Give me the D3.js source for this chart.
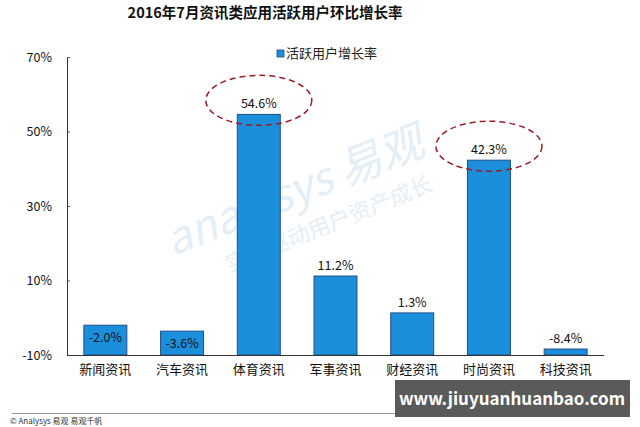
<!DOCTYPE html>
<html><head><meta charset="utf-8">
<script src="https://cdn.jsdelivr.net/npm/d3@7"></script>
<style>
body{margin:0;background:#fff;}
text{font-family:"Noto Sans CJK SC","DejaVu Sans",sans-serif;}
</style></head>
<body><svg id="c" width="640" height="427"></svg>
<script>
const categories = ["新闻资讯","汽车资讯","体育资讯","军事资讯","财经资讯","时尚资讯","科技资讯"];
const values = [-2.0,-3.6,54.6,11.2,1.3,42.3,-8.4];
const yTicks = [-10,10,30,50,70];
const highlighted = ["体育资讯","时尚资讯"];
const title = "2016年7月资讯类应用活跃用户环比增长率";
const seriesName = "活跃用户增长率";

const svg = d3.select("#c");
const x = d3.scaleBand().domain(categories).range([67,604]).paddingInner(0.44).paddingOuter(0.22);
const y = d3.scaleLinear().domain([-10,70]).range([355,57]);
const blue = "#1b8fdb", edge = "#1d4f86";

// faint watermark
const wm = svg.append("g").attr("transform","translate(300,205) rotate(-22)").attr("fill","#e4eef6");
wm.append("text").attr("x",0).attr("y",0).attr("text-anchor","middle").attr("font-size",44).attr("font-style","italic").text("analysys 易观");
wm.append("text").attr("x",20).attr("y",36).attr("text-anchor","middle").attr("font-size",22).text("实践驱动用户资产成长");

svg.append("text").attr("x",265).attr("y",18).attr("text-anchor","middle")
  .attr("font-size",14.5).attr("font-weight","bold").attr("fill","#111").text(title);

// legend
svg.append("rect").attr("x",277).attr("y",50).attr("width",7).attr("height",7).attr("fill",blue).attr("stroke",edge).attr("stroke-width",0.8);
svg.append("text").attr("x",286).attr("y",58).attr("font-size",13).attr("fill","#222").text(seriesName);

// y axis
const ya = svg.append("g").attr("transform","translate(67,0)")
  .call(d3.axisLeft(y).tickValues(yTicks).tickSize(-3).tickPadding(15).tickFormat(d=>d+"%"));
ya.select(".domain").attr("stroke","#333");
ya.selectAll(".tick line").attr("stroke","#555");
ya.selectAll("text").attr("fill","#111").attr("font-family","DejaVu Sans, sans-serif").attr("font-size",12.5);

// bars
svg.selectAll("rect.bar").data(categories).enter().append("rect").attr("class","bar")
  .attr("x",d=>x(d)).attr("width",x.bandwidth())
  .attr("y",(d,i)=>y(values[i])).attr("height",(d,i)=>y(-10)-y(values[i]))
  .attr("fill",blue).attr("stroke",edge).attr("stroke-width",1);

// x axis
const xa = svg.append("g").attr("transform","translate(0,355)")
  .call(d3.axisBottom(x).tickSize(0).tickPadding(10));
xa.select(".domain").attr("stroke","#333").attr("d","M67,0.5H604");
xa.selectAll("text").attr("font-size",13).attr("fill","#111");

// value labels
svg.selectAll("text.val").data(categories).enter().append("text").attr("class","val")
  .attr("x",d=>x(d)+x.bandwidth()/2)
  .attr("y",(d,i)=> (values[i]<0 && values[i]>-6) ? y(values[i])+17 : y(values[i])-6)
  .attr("text-anchor","middle").attr("font-size",12.5).attr("fill","#111")
  .attr("font-family","DejaVu Sans, sans-serif")
  .text((d,i)=>values[i].toFixed(1)+"%");

// highlight ellipses
svg.selectAll("ellipse").data(highlighted).enter().append("ellipse")
  .attr("cx",d=>x(d)+x.bandwidth()/2)
  .attr("cy",d=>y(values[categories.indexOf(d)])-14)
  .attr("rx",53).attr("ry",25)
  .attr("fill","none").attr("stroke","#9b1c24").attr("stroke-width",1.5).attr("stroke-dasharray","6,4");

// footer line
svg.append("line").attr("x1",12).attr("x2",620).attr("y1",413.5).attr("y2",413.5).attr("stroke","#999");
svg.append("text").attr("x",10).attr("y",424).attr("font-size",8).attr("fill","#333").text("© Analysys 易观  易观千帆");

// site watermark box
svg.append("rect").attr("x",395).attr("y",380).attr("width",235).attr("height",37).attr("fill","#5a5a5a");
svg.append("text").attr("x",512).attr("y",405).attr("text-anchor","middle").attr("font-size",17).attr("font-weight","bold")
  .attr("fill","#fff").attr("font-family","DejaVu Sans, sans-serif").text("www.jiuyuanhuanbao.com");
</script></body></html>
